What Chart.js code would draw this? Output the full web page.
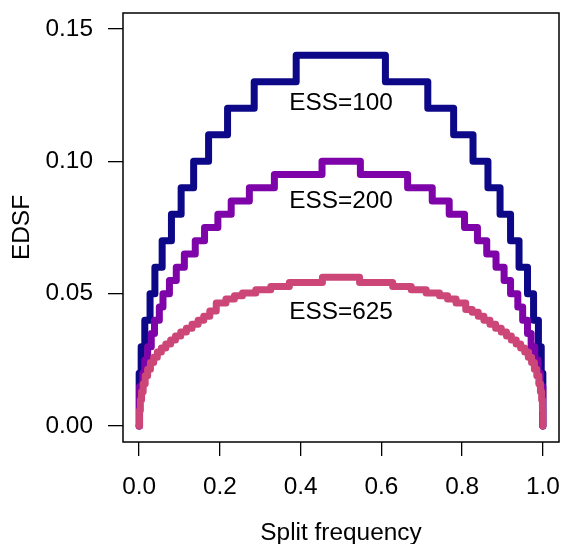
<!DOCTYPE html>
<html lang="en">
<head>
<meta charset="UTF-8">
<title>EDSF vs split frequency</title>
<script src="https://cdn.jsdelivr.net/npm/chart.js@4.4.1/dist/chart.umd.min.js"></script>
<style>
  html, body { margin: 0; padding: 0; background: #fff; }
  #wrap { width: 561px; height: 544px; }
</style>
</head>
<body>
<div id="wrap"><canvas id="chart" width="561" height="544"></canvas></div>
<script>
// axis ticks
const xTicks = [0, 0.2, 0.4, 0.6, 0.8, 1.0];
const yTicks = [0, 0.05, 0.10, 0.15];

// ESS=100: x where each level starts, level value
const ess100X = [0, 0, 0.005, 0.014, 0.027, 0.039, 0.057, 0.080, 0.104, 0.135, 0.172, 0.219, 0.285, 0.389,
                 0.610, 0.715, 0.779, 0.827, 0.864, 0.894, 0.920, 0.941, 0.962, 0.977, 0.989, 0.996, 1.0];
const ess100Y = [0, 0.02, 0.03, 0.04, 0.05, 0.06, 0.07, 0.08, 0.09, 0.10, 0.11, 0.12, 0.13, 0.14,
                 0.13, 0.12, 0.11, 0.10, 0.09, 0.08, 0.07, 0.06, 0.05, 0.04, 0.03, 0.02, 0];

// ESS=200
const ess200X = [0, 0.001, 0.009, 0.014, 0.021, 0.030, 0.038, 0.050, 0.059, 0.075, 0.092, 0.112, 0.139, 0.162,
                 0.195, 0.228, 0.273, 0.335, 0.453,
                 0.548, 0.665, 0.726, 0.768, 0.806, 0.838, 0.861, 0.884, 0.904, 0.920, 0.938, 0.950, 0.962,
                 0.971, 0.980, 0.988, 0.994, 1.0];
const ess200Y = [0, 0.015, 0.02, 0.025, 0.03, 0.035, 0.04, 0.045, 0.05, 0.055, 0.06, 0.065, 0.07, 0.075,
                 0.08, 0.085, 0.09, 0.095, 0.10,
                 0.095, 0.09, 0.085, 0.08, 0.075, 0.07, 0.065, 0.06, 0.055, 0.05, 0.045, 0.04, 0.035,
                 0.03, 0.025, 0.02, 0.015, 0];

// ESS=625
const ess625X = [0, 0.001, 0.003, 0.006, 0.010, 0.015, 0.021, 0.028, 0.036, 0.045, 0.055, 0.066, 0.078, 0.090,
                 0.103, 0.117, 0.131, 0.146, 0.160, 0.175, 0.191, 0.215, 0.236, 0.256, 0.289, 0.326, 0.372, 0.454,
                 0.546, 0.628, 0.674, 0.711, 0.744, 0.764, 0.785, 0.809, 0.825, 0.840, 0.854, 0.869, 0.883,
                 0.897, 0.910, 0.922, 0.934, 0.945, 0.955, 0.964, 0.972, 0.979, 0.985, 0.990, 0.994, 0.997,
                 0.999, 1.0];
const ess625Y = [0, 0.006, 0.010, 0.013, 0.016, 0.019, 0.0215, 0.024, 0.026, 0.028, 0.0295, 0.031, 0.0325, 0.034,
                 0.0355, 0.037, 0.0385, 0.040, 0.0415, 0.0435, 0.0465, 0.0480, 0.0492, 0.0503, 0.0515, 0.0527, 0.0542, 0.0562,
                 0.0542, 0.0527, 0.0515, 0.0503, 0.0492, 0.0480, 0.0465, 0.0440, 0.0430, 0.0415, 0.040, 0.0385, 0.037,
                 0.0355, 0.034, 0.0325, 0.031, 0.0295, 0.028, 0.026, 0.024, 0.0215, 0.019, 0.016, 0.013, 0.010,
                 0.006, 0];

// in-plot labels
const annText = ['ESS=100', 'ESS=200', 'ESS=625'];
const annX = [0.5, 0.5, 0.5];
const annY = [0.122, 0.085, 0.043];

const FONT = '"Liberation Sans", Arial, Helvetica, sans-serif';
const FS = 24.4;
const toPoints = (xs, ys) => xs.map((x, i) => ({ x: x, y: ys[i] }));

const boxPlugin = {
    id: 'box',
    afterDraw(chart) {
        const { ctx, chartArea: a } = chart;
        ctx.save();
        ctx.strokeStyle = '#000';
        ctx.lineWidth = 1.5;
        ctx.strokeRect(a.left, a.top, a.right - a.left, a.bottom - a.top);
        ctx.restore();
    }
};

const labelPlugin = {
    id: 'essLabels',
    afterDatasetsDraw(chart) {
        const { ctx, scales } = chart;
        ctx.save();
        ctx.fillStyle = '#000';
        ctx.font = FS + 'px ' + FONT;
        ctx.textAlign = 'center';
        ctx.textBaseline = 'middle';
        annText.forEach((t, i) => {
            ctx.fillText(t, scales.x.getPixelForValue(annX[i]), scales.y.getPixelForValue(annY[i]));
        });
        ctx.restore();
    }
};

const lineStyle = {
    pointRadius: 0,
    borderWidth: 7,
    stepped: true,
    fill: false,
    borderCapStyle: 'round',
    borderJoinStyle: 'round'
};

new Chart(document.getElementById('chart'), {
    type: 'line',
    data: {
        datasets: [
            { ...lineStyle, label: 'ESS=100', data: toPoints(ess100X, ess100Y), borderColor: '#0D0887', order: 3 },
            { ...lineStyle, label: 'ESS=200', data: toPoints(ess200X, ess200Y), borderColor: '#7E03A8', order: 2 },
            { ...lineStyle, label: 'ESS=625', data: toPoints(ess625X, ess625Y), borderColor: '#CC4778', order: 1 }
        ]
    },
    options: {
        responsive: false,
        animation: false,
        events: [],
        layout: { padding: { top: 13, right: 2, left: 0, bottom: 0 } },
        plugins: { legend: { display: false }, tooltip: { enabled: false } },
        scales: {
            x: {
                type: 'linear',
                min: -0.04,
                max: 1.04,
                afterBuildTicks: s => { s.ticks = xTicks.map(v => ({ value: v })); },
                afterFit: s => { s.height = 102; s.paddingLeft = 0; s.paddingRight = 0; },
                grid: { display: true, drawOnChartArea: false, drawTicks: true, tickLength: 14, color: '#000', lineWidth: 1.3 },
                border: { display: false },
                ticks: {
                    autoSkip: false,
                    maxRotation: 0,
                    padding: 17,
                    color: '#000',
                    font: { family: FONT, size: FS },
                    callback: v => v.toFixed(1)
                },
                title: {
                    display: true,
                    text: 'Split frequency',
                    color: '#000',
                    font: { family: FONT, size: FS, lineHeight: 0.85 },
                    padding: { top: 0, bottom: 0 }
                }
            },
            y: {
                type: 'linear',
                min: -0.006,
                max: 0.156,
                afterBuildTicks: s => { s.ticks = yTicks.map(v => ({ value: v })); },
                afterFit: s => { s.width = 123; s.paddingTop = 0; s.paddingBottom = 0; },
                grid: { display: true, drawOnChartArea: false, drawTicks: true, tickLength: 15, color: '#000', lineWidth: 1.3 },
                border: { display: false },
                ticks: {
                    autoSkip: false,
                    padding: 15,
                    color: '#000',
                    font: { family: FONT, size: FS },
                    callback: v => v.toFixed(2)
                },
                title: {
                    display: true,
                    text: 'EDSF',
                    color: '#000',
                    font: { family: FONT, size: FS, lineHeight: 0.85 },
                    padding: { top: 11.5, bottom: 0 }
                }
            }
        }
    },
    plugins: [boxPlugin, labelPlugin]
});
</script>
</body>
</html>
